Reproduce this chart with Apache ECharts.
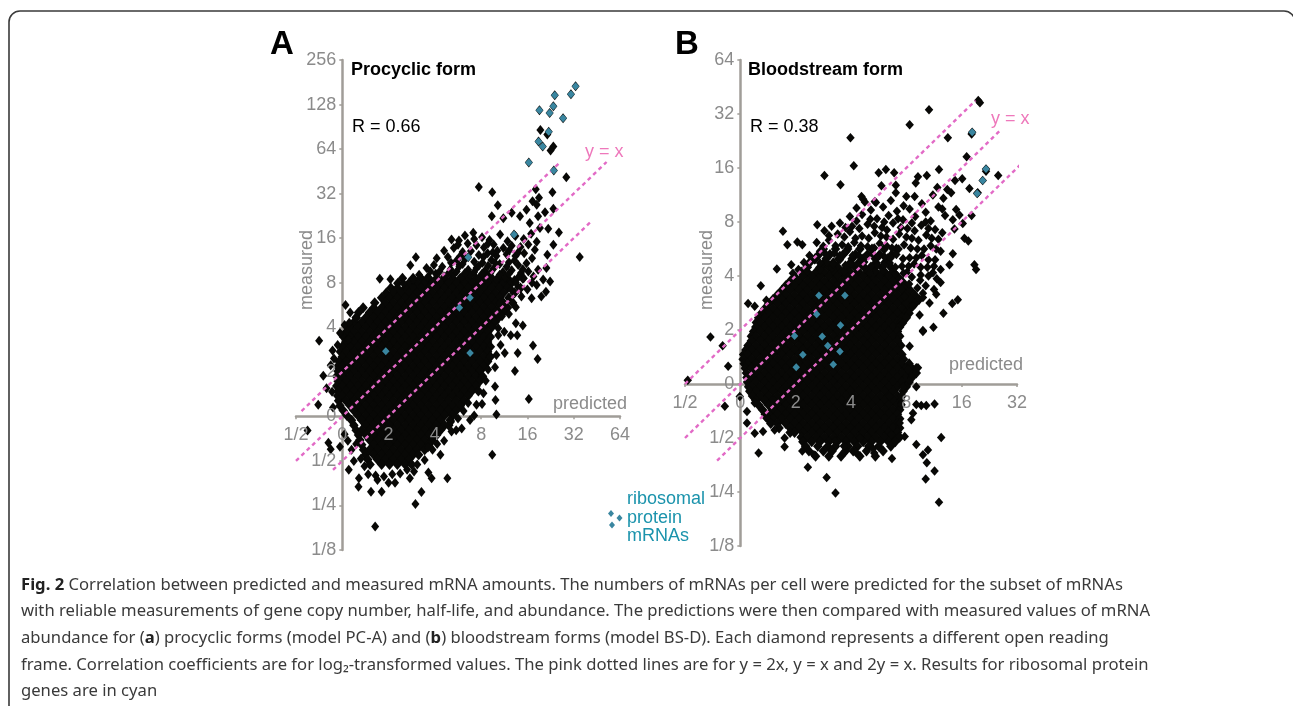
<!DOCTYPE html>
<html><head><meta charset="utf-8">
<style>html,body{margin:0;padding:0;background:#fff}#c{width:1293px;height:706px}</style>
<script src="https://cdn.jsdelivr.net/npm/echarts@6/dist/echarts.min.js"></script>
</head><body><div id="c"></div>
<script>
// All values are log2 of mRNAs per cell.
const xTicksA = ['1/2','0','2','4','8','16','32','64'];
const yTicksA = ['1/8','1/4','1/2','0','2','4','8','16','32','64','128','256'];
const xTicksB = ['1/2','0','2','4','8','16','32'];
const yTicksB = ['1/8','1/4','1/2','0','2','4','8','16','32','64'];

// Dense cloud, panel A: each row is [log2 measured, log2 predicted ...]
const procyclicRows = [
[3.1,1.3,1.53,1.7,1.87,2.04,2.21,2.38,2.55,2.72,2.89,3.06,3.23,3.4,3.57,3.9],
[2.99,1.2,1.44,1.61,1.78,1.95,2.12,2.29,2.46,2.63,2.8,2.97,3.14,3.31,3.48,3.65],
[2.88,1.05,1.19,1.36,1.53,1.7,1.87,2.04,2.21,2.38,2.55,2.72,2.89,3.06,3.23,3.4,3.57,3.85],
[2.77,0.95,1.1,1.27,1.44,1.61,1.78,1.95,2.12,2.29,2.46,2.63,2.8,2.97,3.14,3.31,3.48,3.72],
[2.66,0.85,1.02,1.19,1.36,1.53,1.7,1.87,2.04,2.21,2.38,2.55,2.72,2.89,3.06,3.23,3.4,3.6],
[2.55,0.7,0.93,1.1,1.27,1.44,1.61,1.78,1.95,2.12,2.29,2.46,2.63,2.8,2.97,3.14,3.31,3.48,3.68],
[2.44,0.45,0.68,0.85,1.02,1.19,1.36,1.53,1.7,1.87,2.04,2.21,2.38,2.55,2.72,2.89,3.06,3.23,3.4,3.57],
[2.33,0.35,0.59,0.76,0.93,1.1,1.27,1.44,1.61,1.78,1.95,2.12,2.29,2.46,2.63,2.8,2.97,3.14,3.31,3.48],
[2.22,0.3,0.51,0.68,0.85,1.02,1.19,1.36,1.53,1.7,1.87,2.04,2.21,2.38,2.55,2.72,2.89,3.06,3.23,3.38],
[2.11,0.25,0.42,0.59,0.76,0.93,1.1,1.27,1.44,1.61,1.78,1.95,2.12,2.29,2.46,2.63,2.8,2.97,3.14,3.3],
[2.0,0.17,0.34,0.51,0.68,0.85,1.02,1.19,1.36,1.53,1.7,1.87,2.04,2.21,2.38,2.55,2.72,2.89,3.06,3.23],
[1.89,0.08,0.25,0.42,0.59,0.76,0.93,1.1,1.27,1.44,1.61,1.78,1.95,2.12,2.29,2.46,2.63,2.8,2.97,3.14],
[1.78,0.03,0.17,0.34,0.51,0.68,0.85,1.02,1.19,1.36,1.53,1.7,1.87,2.04,2.21,2.38,2.55,2.72,2.89,3.06,3.2],
[1.67,0.08,0.25,0.42,0.59,0.76,0.93,1.1,1.27,1.44,1.61,1.78,1.95,2.12,2.29,2.46,2.63,2.8,2.97,3.14],
[1.56,0,0.17,0.34,0.51,0.68,0.85,1.02,1.19,1.36,1.53,1.7,1.87,2.04,2.21,2.38,2.55,2.72,2.89,3.06,3.2],
[1.45,-0.04,0.08,0.25,0.42,0.59,0.76,0.93,1.1,1.27,1.44,1.61,1.78,1.95,2.12,2.29,2.46,2.63,2.8,2.97,3.14],
[1.34,0,0.17,0.34,0.51,0.68,0.85,1.02,1.19,1.36,1.53,1.7,1.87,2.04,2.21,2.38,2.55,2.72,2.89,3.06,3.2],
[1.23,-0.07,0.08,0.25,0.42,0.59,0.76,0.93,1.1,1.27,1.44,1.61,1.78,1.95,2.12,2.29,2.46,2.63,2.8,2.97,3.14],
[1.12,-0.1,0,0.17,0.34,0.51,0.68,0.85,1.02,1.19,1.36,1.53,1.7,1.87,2.04,2.21,2.38,2.55,2.72,2.89,3.06],
[1.01,-0.09,0.08,0.25,0.42,0.59,0.76,0.93,1.1,1.27,1.44,1.61,1.78,1.95,2.12,2.29,2.46,2.63,2.8,2.97],
[0.9,-0.12,0,0.17,0.34,0.51,0.68,0.85,1.02,1.19,1.36,1.53,1.7,1.87,2.04,2.21,2.38,2.55,2.72,2.89,3.03],
[0.79,-0.09,0.08,0.25,0.42,0.59,0.76,0.93,1.1,1.27,1.44,1.61,1.78,1.95,2.12,2.29,2.46,2.63,2.8,2.97],
[0.68,-0.12,0,0.17,0.34,0.51,0.68,0.85,1.02,1.19,1.36,1.53,1.7,1.87,2.04,2.21,2.38,2.55,2.72,2.89],
[0.57,-0.09,0.08,0.25,0.42,0.59,0.76,0.93,1.1,1.27,1.44,1.61,1.78,1.95,2.12,2.29,2.46,2.63,2.8,2.94],
[0.46,-0.1,0,0.17,0.34,0.51,0.68,0.85,1.02,1.19,1.36,1.53,1.7,1.87,2.04,2.21,2.38,2.55,2.72],
[0.35,-0.08,0.08,0.25,0.42,0.59,0.76,0.93,1.1,1.27,1.44,1.61,1.78,1.95,2.12,2.29,2.46,2.63],
[0.24,-0.05,0.17,0.34,0.51,0.68,0.85,1.02,1.19,1.36,1.53,1.7,1.87,2.04,2.21,2.38,2.55],
[0.13,0.02,0.25,0.42,0.59,0.76,0.93,1.1,1.27,1.44,1.61,1.78,1.95,2.12,2.29,2.46],
[0.02,0.1,0.34,0.51,0.68,0.85,1.02,1.19,1.36,1.53,1.7,1.87,2.04,2.21,2.38],
[-0.09,0.2,0.42,0.59,0.76,0.93,1.1,1.27,1.44,1.61,1.78,1.95,2.12,2.33],
[-0.2,0.25,0.51,0.68,0.85,1.02,1.19,1.36,1.53,1.7,1.87,2.04,2.21,2.3],
[-0.31,0.3,0.42,0.59,0.76,0.93,1.1,1.27,1.44,1.61,1.78,1.95,2.12],
[-0.42,0.35,0.51,0.68,0.85,1.02,1.19,1.36,1.53,1.7,1.87,2.04],
[-0.53,0.38,0.59,0.76,0.93,1.1,1.27,1.44,1.61,1.78,1.95],
[-0.64,0.42,0.68,0.85,1.02,1.19,1.36,1.53,1.7,1.87],
[-0.75,0.46,0.59,0.76,0.93,1.1,1.27,1.44,1.61,1.78],
[-0.86,0.5,0.68,0.85,1.02,1.19,1.36,1.53,1.65],
[-0.97,0.55,0.76,0.93,1.1,1.27,1.44],
[-1.08,0.6,0.85,1.02,1.19,1.36,1.5]
];
// Individually legible black diamonds, panel A: [log2 predicted, log2 measured]
const procyclicLoose = [
[4.28,6.43],[4.43,6.33],[4.56,6.06],[4.5,5.97],[4.84,5.37],[4.54,5.03],[4.18,5.1],[4.25,4.91],[4.11,4.83],[4.2,4.75],
[2.95,5.15],[3.24,5.03],[3.36,4.74],[3.98,4.64],[4.56,4.66],[4.38,4.58],[4.23,4.49],[3.66,4.57],[3.23,4.49],[3.48,4.45],
[3.84,4.49],[4.68,4.13],[4.45,4.21],[4.27,4.23],[4.05,4.34],[5.13,3.58],[4.56,3.85],[4.43,3.63],[4.16,3.74],[2.83,4.12],
[2.65,4.06],[2.36,3.97],[2.52,3.95],[1.59,3.57],[1.47,3.39],[0.81,3.09],[1.04,3.08],[1.32,2.99],[1.53,3.07],[4.34,3.07],
[4.49,3.03],[4.23,3.29],[4.13,3.14],[4.41,3.33],[-0.5,1.7],[-0.52,0.26],[-0.75,-0.32],[-0.41,0.91],[-0.21,1.48],[-0.34,0.63],
[-0.05,1.87],[0.07,2.5],[0.17,2.33],[0.31,2.2],[0.13,1.72],[-0.05,-0.68],[-0.3,-0.59],[-0.25,-0.74],[0.14,-1.2],[0.36,-1.39],
[0.35,-1.58],[0.62,-1.69],[0.85,-1.69],[0.76,-1.43],[1,-1.49],[1.14,-1.49],[0.71,-2.47],[1.58,-1.97],[1.71,-1.7],[1.46,-1.39],
[1.55,-1.24],[1.86,-1.26],[1.93,-1.39],[2.27,-1.39],[2.12,-0.86],[1.95,-0.75],[3.24,-0.86],[3.33,0.04],[3.31,0.37],[4.03,0.39],
[3.73,1.02],[4.22,1.29],[4.12,1.59],[3.79,1.42],[3.51,1.42],[3.33,1.38],[3.64,1.82],[3.78,1.82],[3.37,1.98],[3.37,1.82],
[3.75,2.09],[3.9,2.04],[4.3,2.69],[4.09,2.65],[3.87,2.69],[3.69,2.54],[3.4,2.54],[2.58,-0.27],[2.46,-0.31],[2.36,-0.34],
[2.76,-0.08],[2.9,0.26],[3.05,0.52],[3.3,0.67],[2.97,1.04],[3.19,1.34],
[3.02,4.02],[3.18,3.96],[3.41,4.08],[3.57,3.93],[3.74,4.05],[3.92,3.98],[4.08,4.1],
[2.71,3.88],[2.9,3.84],[3.06,3.79],[3.27,3.86],[3.48,3.78],[3.66,3.83],[3.85,3.8],[4.02,3.86],[4.2,3.92],
[2.2,3.72],[2.41,3.78],[2.6,3.69],[2.78,3.71],[2.95,3.62],[3.14,3.66],[3.33,3.6],[3.55,3.64],[3.74,3.6],[3.93,3.66],[4.1,3.55],
[2.04,3.55],[2.28,3.58],[2.47,3.5],[2.66,3.54],[2.85,3.47],[3.03,3.45],[3.22,3.51],[3.4,3.42],[3.6,3.46],[3.8,3.4],[3.98,3.44],[4.02,3.25],
[1.82,3.33],[1.98,3.4],[2.16,3.36],[2.34,3.3],[2.53,3.37],[2.72,3.29],[2.9,3.33],[3.08,3.27],[3.27,3.32],[3.47,3.24],[3.66,3.28],[3.86,3.22],
[1.66,3.18],[1.84,3.12],[2.02,3.2],[2.2,3.14],[2.4,3.18],[2.58,3.12],[2.77,3.17],[2.95,3.1],[3.14,3.15],[3.33,3.08],[3.52,3.12],[3.72,3.06],[3.92,3.1],
[0.05,-0.4],[0.12,-0.55],[0.2,-0.75],[0.3,-0.62],[0.25,-1.0],[0.4,-0.95],[0.48,-1.12],[0.56,-1.3],[0.72,-1.33],[0.9,-1.35],
[1.08,-1.3],[1.25,-1.28],[1.4,-1.2],[1.62,-1.08],[1.78,-0.98],[1.85,-0.7],[2.05,-0.62],[2.2,-0.55],[2.35,-0.12],[2.5,-0.05],
[2.62,0.12],[2.72,0.3],[2.85,0.02],[3.02,0.28],[3.1,0.8],[3.15,1.05],[3.3,1.1],[3.42,1.6],[3.5,1.9],[3.45,2.25],[3.6,2.3],[3.75,2.45],
[-0.2,0.2],[-0.22,0.55],[-0.25,1.15],[-0.18,1.3],[-0.1,1.6],[0.05,2.05],[0.15,2.1],
[2.5,3.85],[2.85,3.98],[3.15,3.88],[3.35,3.72],[3.6,3.72],[3.8,3.68],[3.05,3.58],[3.25,3.68],[2.55,3.6],[2.35,3.45],
[2.6,3.42],[2.95,3.38],[3.15,3.38],[3.3,3.45],[3.55,3.36],[3.72,3.5],[2.1,3.25],[2.3,3.22],[2.47,3.25],[2.65,3.22],
[2.85,3.24],[3.02,3.2],[3.2,3.22],[3.4,3.18],[3.6,3.2],[3.8,3.12],[1.9,3.26],[3.9,3.3],[4.1,3.0],[4.0,2.85],
[3.8,2.9],[3.65,2.85],[4.2,2.95],[4.4,2.8],[3.75,3.0]
];
// Ribosomal protein mRNAs, panel A
const procyclicRibosomal = [
[5.04,7.41],[4.94,7.23],[4.59,7.21],[4.56,6.96],[4.26,6.87],[4.48,6.81],[4.77,6.69],[4.46,6.39],[4.24,6.17],[4.33,6.06],
[4.03,5.7],[4.57,5.52],[3.71,4.08],[2.72,3.57],[2.76,2.66],[2.53,2.44],[0.94,1.46],[2.76,1.42]
];

// Dense cloud, panel B
const bloodstreamRows = [
[2.5,1.5,1.72,1.94,2.16,2.38,2.6,2.82],
[2.4,1.42,1.62,1.86,2.08,2.3,2.52,2.74],
[2.32,1.35,1.55,1.78,2.02,2.22,2.44,2.66],
[2.245,1.25,1.52,1.68,1.99,2.14,2.45,2.61],
[2.16,1.2,1.44,1.6,1.76,1.92,2.08,2.24,2.4,2.56,2.72],
[2.075,1.1,1.21,1.37,1.52,1.68,1.83,1.99,2.14,2.3,2.45,2.61,2.76],
[1.99,0.98,1.13,1.29,1.44,1.6,1.75,1.91,2.06,2.22,2.37,2.53,2.68,2.84],
[1.905,0.9,1.06,1.21,1.37,1.52,1.68,1.83,1.99,2.14,2.3,2.45,2.61,2.76,2.92],
[1.82,0.82,0.98,1.13,1.29,1.44,1.6,1.75,1.91,2.06,2.22,2.37,2.53,2.68,2.84,2.99],
[1.735,0.75,0.9,1.06,1.21,1.37,1.52,1.68,1.83,1.99,2.14,2.3,2.45,2.61,2.76,2.92,3.07],
[1.65,0.67,0.82,0.98,1.13,1.29,1.44,1.6,1.75,1.91,2.06,2.22,2.37,2.53,2.68,2.84,2.99,3.15],
[1.565,0.59,0.75,0.9,1.06,1.21,1.37,1.52,1.68,1.83,1.99,2.14,2.3,2.45,2.61,2.76,2.92,3.07,3.23],
[1.48,0.51,0.67,0.82,0.98,1.13,1.29,1.44,1.6,1.75,1.91,2.06,2.22,2.37,2.53,2.68,2.84,2.99,3.15],
[1.395,0.44,0.59,0.75,0.9,1.06,1.21,1.37,1.52,1.68,1.83,1.99,2.14,2.3,2.45,2.61,2.76,2.92,3.07],
[1.31,0.38,0.51,0.67,0.82,0.98,1.13,1.29,1.44,1.6,1.75,1.91,2.06,2.22,2.37,2.53,2.68,2.84,2.99,3.05],
[1.225,0.33,0.44,0.59,0.75,0.9,1.06,1.21,1.37,1.52,1.68,1.83,1.99,2.14,2.3,2.45,2.61,2.76,2.92,3.0],
[1.14,0.29,0.36,0.51,0.67,0.82,0.98,1.13,1.29,1.44,1.6,1.75,1.91,2.06,2.22,2.37,2.53,2.68,2.84,2.9],
[1.055,0.28,0.44,0.59,0.75,0.9,1.06,1.21,1.37,1.52,1.68,1.83,1.99,2.14,2.3,2.45,2.61,2.76,2.88],
[0.97,0.24,0.36,0.51,0.67,0.82,0.98,1.13,1.29,1.44,1.6,1.75,1.91,2.06,2.22,2.37,2.53,2.68,2.84],
[0.885,0.2,0.28,0.44,0.59,0.75,0.9,1.06,1.21,1.37,1.52,1.68,1.83,1.99,2.14,2.3,2.45,2.61,2.76,2.88],
[0.8,0.2,0.36,0.51,0.67,0.82,0.98,1.13,1.29,1.44,1.6,1.75,1.91,2.06,2.22,2.37,2.53,2.68,2.84],
[0.715,0.14,0.28,0.44,0.59,0.75,0.9,1.06,1.21,1.37,1.52,1.68,1.83,1.99,2.14,2.3,2.45,2.61,2.76,2.9],
[0.63,0.1,0.2,0.36,0.51,0.67,0.82,0.98,1.13,1.29,1.44,1.6,1.75,1.91,2.06,2.22,2.37,2.53,2.68,2.84],
[0.545,0.06,0.13,0.28,0.44,0.59,0.75,0.9,1.06,1.21,1.37,1.52,1.68,1.83,1.99,2.14,2.3,2.45,2.61,2.76,2.92],
[0.46,0.05,0.2,0.36,0.51,0.67,0.82,0.98,1.13,1.29,1.44,1.6,1.75,1.91,2.06,2.22,2.37,2.53,2.68,2.84,2.95],
[0.375,0.07,0.13,0.28,0.44,0.59,0.75,0.9,1.06,1.21,1.37,1.52,1.68,1.83,1.99,2.14,2.3,2.45,2.61,2.76,2.92,3.05],
[0.29,0.09,0.2,0.36,0.51,0.67,0.82,0.98,1.13,1.29,1.44,1.6,1.75,1.91,2.06,2.22,2.37,2.53,2.68,2.84,2.99,3.1],
[0.205,0.11,0.28,0.44,0.59,0.75,0.9,1.06,1.21,1.37,1.52,1.68,1.83,1.99,2.14,2.3,2.45,2.61,2.76,2.92,3.07,3.18],
[0.12,0.12,0.2,0.36,0.51,0.67,0.82,0.98,1.13,1.29,1.44,1.6,1.75,1.91,2.06,2.22,2.37,2.53,2.68,2.84,2.99,3.1],
[0.035,0.13,0.28,0.44,0.59,0.75,0.9,1.06,1.21,1.37,1.52,1.68,1.83,1.99,2.14,2.3,2.45,2.61,2.76,2.92,3.05],
[-0.05,0.15,0.2,0.36,0.51,0.67,0.82,0.98,1.13,1.29,1.44,1.6,1.75,1.91,2.06,2.22,2.37,2.53,2.68,2.84,3.0],
[-0.135,0.17,0.28,0.44,0.59,0.75,0.9,1.06,1.21,1.37,1.52,1.68,1.83,1.99,2.14,2.3,2.45,2.61,2.76,2.94],
[-0.22,0.22,0.36,0.51,0.67,0.82,0.98,1.13,1.29,1.44,1.6,1.75,1.91,2.06,2.22,2.37,2.53,2.68,2.84,2.92],
[-0.305,0.28,0.44,0.59,0.75,0.9,1.06,1.21,1.37,1.52,1.68,1.83,1.99,2.14,2.3,2.45,2.61,2.76,2.9],
[-0.39,0.33,0.51,0.67,0.82,0.98,1.13,1.29,1.44,1.6,1.75,1.91,2.06,2.22,2.37,2.53,2.68,2.84,2.9],
[-0.475,0.4,0.59,0.75,0.9,1.06,1.21,1.37,1.52,1.68,1.83,1.99,2.14,2.3,2.45,2.61,2.76,2.88],
[-0.56,0.45,0.51,0.67,0.82,0.98,1.13,1.29,1.44,1.6,1.75,1.91,2.06,2.22,2.37,2.53,2.68,2.84],
[-0.645,0.5,0.59,0.75,0.9,1.06,1.21,1.37,1.52,1.68,1.83,1.99,2.14,2.3,2.45,2.61,2.76,2.88],
[-0.73,0.55,0.67,0.82,0.98,1.13,1.29,1.44,1.6,1.75,1.91,2.06,2.22,2.37,2.53,2.68,2.84],
[-0.815,0.7,0.9,1.06,1.21,1.37,1.52,1.68,1.83,1.99,2.14,2.3,2.45,2.61,2.76,2.88],
[-0.9,0.9,0.98,1.13,1.29,1.44,1.6,1.75,1.91,2.06,2.22,2.37,2.53,2.68,2.84],
[-0.985,1.1,1.21,1.37,1.52,1.68,1.83,1.99,2.14,2.3,2.45,2.61,2.76,2.88],
[-1.07,1.13,1.29,1.44,1.6,1.75,1.91,2.06,2.22,2.37,2.53,2.68,2.8],
[-1.155,1.18,1.4,1.58,1.72,1.95,2.12,2.32,2.5,2.72],
[-1.24,1.24,1.5,1.66,1.9,2.04,2.28,2.58],
[-1.34,1.36,1.6,1.82,2.16,2.44]
];
const bloodstreamLoose = [
[4.3,5.25],[4.33,5.21],[3.41,5.08],[3.06,4.8],[1.99,4.56],[3.75,4.56],[4.18,4.63],[2.05,4.04],[1.52,3.86],[1.81,3.69],
[4.09,4.21],[3.59,3.97],[2.5,3.91],[2.63,3.97],[2.78,3.91],[3.21,3.84],[3.37,3.86],[4.44,3.94],[4.66,3.86],[4.01,3.8],
[3.88,3.77],[3.17,3.72],[2.55,3.67],[2.81,3.68],[3.56,3.64],[4.14,3.62],[4.29,3.54],[3.74,3.6],[3.81,3.54],[2.81,3.54],
[2.19,3.47],[2.25,3.37],[2.43,3.38],[3.0,3.47],[3.15,3.47],[3.48,3.5],[3.67,3.44],[3.9,3.23],[3.96,3.13],[4.18,3.12],
[3.65,3.24],[3.84,3.04],[4.02,2.97],[3.87,2.87],[3.65,2.8],[4.05,2.7],[4.12,2.65],[3.84,2.41],[3.78,2.21],[4.23,2.21],
[4.26,2.12],[0.77,2.83],[1.39,2.95],[0.85,2.58],[1.03,2.63],[1.12,2.58],[0.66,2.13],[0.37,1.82],[0.92,2.21],[3.93,1.56],
[3.83,1.49],[3.67,1.31],[3.54,1.66],[3.49,1.05],[3.3,0.99],[3.18,0.3],[3.51,-0.37],[3.36,-0.4],[3.27,-0.4],[3.18,-0.38],
[3.63,-0.99],[3.39,-1.22],[3.3,-1.31],[3.37,-1.46],[3.51,-1.61],[3.35,-1.76],[3.59,-2.19],[1.72,-2.02],[1.56,-1.73],[1.22,-1.54],
[0.33,-1.28],[0.8,-1.16],[1.33,-1.31],[1.12,-1.24],[1.87,-1.28],[2.42,-1.28],[2.74,-1.38],[-0.54,0.87],[-0.95,0.07],[-0.22,0.33],
[-0.32,0.71],[-0.28,-0.41],[0.12,-0.72],[0.26,-0.91],[0.41,-0.88],[0.14,1.49],[0.26,1.44],[0.47,1.55],[2.4,-1.2],[2.16,-1.0],
[2.08,-1.26],[1.87,-1.15],[1.71,-1.06],[0.8,-1.0],[0.62,-0.85],[0.47,-0.63],[0.26,-0.35],[0.12,-0.51],[-0.01,-0.23],[2.88,-0.72],
[3.18,-1.12],[2.73,-0.94],[2.97,-0.97],[3.12,-0.54],[2.91,-0.38],[3.09,-0.66],[3.18,-0.05],[3.21,0.3],[3.06,0.7],[3.3,0.97],
[3.24,1.28],[3.12,1.44],[2.97,1.62],[3.3,1.68],[2.94,1.13],[3.03,0.27],[2.94,-0.05],[2.7,-0.23],
[2.22,3.42],[2.45,3.36],[2.72,3.4],[2.95,3.3],[3.28,3.34],
[2.1,3.26],[2.36,3.22],[2.58,3.28],[2.83,3.2],[3.06,3.24],[3.35,3.18],[3.58,3.28],
[1.98,3.1],[2.2,3.14],[2.47,3.06],[2.68,3.12],[2.94,3.04],[3.16,3.1],[3.44,3.02],[3.7,3.12],
[1.8,2.98],[2.02,2.92],[2.3,2.96],[2.56,2.9],[2.76,2.98],[3.02,2.88],[3.27,2.94],[3.52,2.86],
[1.52,2.84],[1.76,2.78],[1.98,2.82],[2.2,2.74],[2.43,2.8],[2.64,2.72],[2.87,2.78],[3.1,2.7],[3.36,2.76],[3.58,2.68],
[1.38,2.62],[1.6,2.66],[1.84,2.58],[2.06,2.62],[2.3,2.54],[2.52,2.6],[2.74,2.52],[2.96,2.58],[3.2,2.5],[3.44,2.56],[3.62,2.46],
[1.44,2.46],[1.7,2.42],[1.92,2.46],[2.14,2.38],[2.38,2.42],[2.6,2.36],[2.82,2.4],[3.06,2.34],[3.28,2.38],[3.52,2.3],
[1.34,2.3],[1.56,2.26],[1.8,2.3],[2.0,2.22],[2.24,2.26],[2.48,2.2],[2.7,2.24],[2.92,2.18],[3.14,2.22],[3.38,2.16],[3.62,2.12],
[1.22,2.16],[1.44,2.12],[1.66,2.15],[1.88,2.08],[2.12,2.12],[2.34,2.06],[2.58,2.1],[2.8,2.04],[3.02,2.08],[3.26,2.02],[3.48,2.06],
[1.65,2.92],[1.9,2.9],[2.15,2.88],[2.42,2.92],[2.65,2.85],[2.9,2.9],[3.15,2.84],[3.4,2.88],[1.6,2.75],[1.88,2.72],
[2.08,2.7],[2.32,2.7],[2.54,2.74],[2.76,2.68],[3.0,2.72],[3.22,2.66],[3.46,2.7],[1.5,2.55],[1.72,2.56],[1.95,2.54],
[2.18,2.56],[2.42,2.52],[2.64,2.56],[2.86,2.5],[3.08,2.52],[3.32,2.5],[3.54,2.5],[1.55,2.4],[1.8,2.38],[2.03,2.38],
[2.26,2.36],[2.5,2.36],[2.72,2.34],[2.94,2.32],[3.18,2.34],[3.4,2.3],[1.44,2.24],[1.68,2.22],[1.9,2.2],[2.13,2.2],
[2.36,2.18],[2.6,2.2],[2.8,2.16],[3.04,2.18],[3.26,2.16],[3.5,2.18],[2.1,3.02],[2.35,3.05],[2.6,3.0],[2.85,3.06],
[3.1,2.98],[3.35,3.0],
[2.95,2.05],[3.1,1.98],[3.25,1.92],[3.4,2.0],[3.55,1.95],[3.05,1.85],[3.2,1.78],[3.35,1.82],[3.5,1.75],[3.62,1.88],
[3.3,1.6],[3.42,1.5],[0.95,2.05],[1.05,2.12],[1.15,2.25],[1.25,2.38]
];
const bloodstreamRibosomal = [
[4.19,4.66],[4.44,3.98],[4.38,3.77],[4.28,3.53],[1.42,1.64],[1.89,1.64],[1.38,1.29],[1.81,1.09],[0.98,0.89],[1.48,0.88],
[1.58,0.71],[1.8,0.6],[1.13,0.54],[1.01,0.31],[1.68,0.36]
];

// Reference lines y = 2x, y = x, 2y = x: end points in log2 units
const refLinesA = [[[-0.88,0.12],[4.68,5.68]],[[-1,-1],[5.71,5.71]],[[-0.2,-1.2],[5.35,4.35]]];
const refLinesB = [[[-1,0],[4.25,5.25]],[[-1,-1],[4.71,4.71]],[[-0.42,-1.42],[5.32,4.32]]];

const captionLines = [
 '{b|Fig. 2} Correlation between predicted and measured mRNA amounts. The numbers of mRNAs per cell were predicted for the subset of mRNAs',
 'with reliable measurements of gene copy number, half-life, and abundance. The predictions were then compared with measured values of mRNA',
 'abundance for ({b|a}) procyclic forms (model PC-A) and ({b|b}) bloodstream forms (model BS-D). Each diamond represents a different open reading',
 'frame. Correlation coefficients are for log₂-transformed values. The pink dotted lines are for y = 2x, y = x and 2y = x. Results for ribosomal protein',
 'genes are in cyan'
];
const captionY = [585, 611, 638, 665, 691];

const GRAY = '#a09d98', LABEL = '#8b8b8b', PINK = '#e26ac6', TEAL = '#3a86a0', BLACK = '#080806', FONT = '"Liberation Sans", Arial, sans-serif';
const gridA = { left: 296, top: 60, width: 324, height: 490 };
const gridB = { left: 685, top: 60, width: 332, height: 486 };

function flatten(rows) {
  const pts = [];
  rows.forEach(r => { for (let i = 1; i < r.length; i++) pts.push([r[i], r[0]]); });
  return pts;
}
// Each axis comes as a pair: a line/tick axis under the marks and a label axis over them.
function axisPair(dim, grid, min, max, ticks, pos, offset) {
  const fmt = v => ticks[Math.round(v - min)];
  const base = { type: 'value', gridIndex: grid, min, max, interval: 1, position: pos, offset, splitLine: { show: false } };
  return [
    Object.assign({}, base, { z: 0,
      axisLine: { show: true, onZero: false, lineStyle: { color: GRAY, width: 2.5 } },
      axisTick: { show: true, length: 3, lineStyle: { color: GRAY, width: 1.5 } },
      axisLabel: { show: false } }),
    Object.assign({}, base, { z: 20,
      axisLine: { show: false, onZero: false },
      axisTick: { show: false },
      axisLabel: { show: true, formatter: fmt, color: LABEL, fontFamily: FONT, fontSize: 18, margin: dim === 'x' ? 10 : 6, hideOverlap: false, showMinLabel: true, showMaxLabel: true } })
  ];
}
function panelSeries(gridAxis, core, loose, ribosomal, lines, coreSize, looseSize) {
  const black = (data, size) => ({ type: 'scatter', xAxisIndex: gridAxis, yAxisIndex: gridAxis, data, symbol: 'diamond', symbolSize: size, itemStyle: { color: BLACK, opacity: 1 }, z: 3, clip: false, silent: true, progressive: 0 });
  const out = [black(core, coreSize), black(loose.concat(ribosomal), looseSize)];
  lines.forEach(l => out.push({ type: 'line', xAxisIndex: gridAxis, yAxisIndex: gridAxis, data: l, showSymbol: false, symbol: 'none', lineStyle: { color: PINK, width: 2.4, type: [4, 3.5] }, z: 4, clip: false, silent: true }));
  out.push({ type: 'scatter', xAxisIndex: gridAxis, yAxisIndex: gridAxis, data: ribosomal, symbol: 'diamond', symbolSize: [7.5, 8], itemStyle: { color: TEAL, opacity: 1 }, z: 5, clip: false, silent: true });
  return out;
}
function label(text, x, y, o) {
  return { type: 'text', z: 30, x, y, style: Object.assign({ text, fill: '#000', fontFamily: FONT, fontSize: 18, verticalAlign: 'middle', align: 'left' }, o || {}) };
}
function legendDiamond(cx, cy) {
  return { type: 'polygon', z: 30, shape: { points: [[cx, cy - 3.5], [cx + 3, cy], [cx, cy + 3.5], [cx - 3, cy]] }, style: { fill: TEAL } };
}

// The x axes sit at log2 measured = 0 and the y axes at log2 predicted = 0.
const gx = [...axisPair('x', 0, -1, 6, xTicksA, 'bottom', -gridA.height * 3 / 11), ...axisPair('x', 1, -1, 5, xTicksB, 'bottom', -gridB.height * 3 / 9)];
const gy = [...axisPair('y', 0, -3, 8, yTicksA, 'left', -gridA.width / 7), ...axisPair('y', 1, -3, 6, yTicksB, 'left', -gridB.width / 6)];

const graphic = [
  { type: 'rect', z: 1, shape: { x: 9, y: 11, width: 1286, height: 730, r: 11 }, style: { fill: 'none', stroke: '#3a3a3a', lineWidth: 1.6 } },
  label('A', 270, 45, { fontSize: 33, fontWeight: 'bold' }),
  label('B', 675, 45, { fontSize: 33, fontWeight: 'bold' }),
  label('Procyclic form', 351, 70, { fontWeight: 'bold' }),
  label('Bloodstream form', 748, 70, { fontWeight: 'bold' }),
  label('R = 0.66', 352, 127),
  label('R = 0.38', 750, 127),
  label('y = x', 585, 152, { fill: '#ee78bb' }),
  label('y = x', 991, 119, { fill: '#ee78bb' }),
  label('predicted', 553, 404, { fill: LABEL }),
  label('predicted', 949, 365, { fill: LABEL }),
  { type: 'text', z: 30, x: 307, y: 270, rotation: Math.PI / 2, style: { text: 'measured', fill: LABEL, fontFamily: FONT, fontSize: 18, align: 'center', verticalAlign: 'middle' } },
  { type: 'text', z: 30, x: 707, y: 270, rotation: Math.PI / 2, style: { text: 'measured', fill: LABEL, fontFamily: FONT, fontSize: 18, align: 'center', verticalAlign: 'middle' } },
  label('ribosomal', 627, 499, { fill: '#1b93ac' }),
  label('protein', 627, 518, { fill: '#1b93ac' }),
  label('mRNAs', 627, 536, { fill: '#1b93ac' }),
  legendDiamond(611, 513.5), legendDiamond(619.5, 518), legendDiamond(612, 525)
];
captionLines.forEach((t, i) => graphic.push({ type: 'text', z: 30, x: 21, y: captionY[i], style: {
  text: t, fill: '#3a3a3a', fontFamily: '"Noto Sans"', fontSize: 16.65, verticalAlign: 'middle', align: 'left',
  rich: { b: { fontWeight: 'bold', fontFamily: '"Noto Sans"', fontSize: 16.65, fill: '#222' } } } }));

const chart = echarts.init(document.getElementById('c'), null, { renderer: 'canvas', width: 1293, height: 706 });
chart.setOption({
  animation: false, backgroundColor: '#fff',
  grid: [Object.assign({ containLabel: false }, gridA), Object.assign({ containLabel: false }, gridB)],
  xAxis: gx, yAxis: gy,
  series: [
    ...panelSeries(0, flatten(procyclicRows), procyclicLoose, procyclicRibosomal, refLinesA, [9.5, 11], [8, 10]),
    ...panelSeries(2, flatten(bloodstreamRows), bloodstreamLoose, bloodstreamRibosomal, refLinesB, [9.5, 11], [8.5, 9.5])
  ],
  graphic
});
</script></body></html>
